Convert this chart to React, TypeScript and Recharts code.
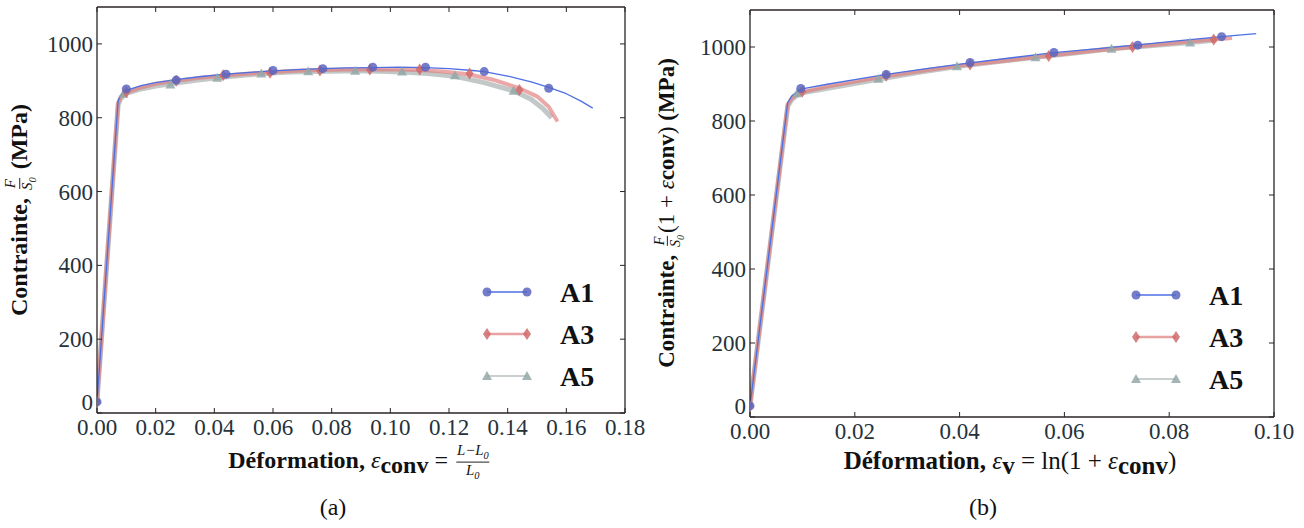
import React from "react";
import { ComposedChart, Line, Scatter, XAxis, YAxis } from "recharts";

type Pt = { x: number; y: number };
const pts = (rows: number[][]): Pt[] => rows.map(([x, y]) => ({ x, y }));

const seriesNames = ["A1", "A3", "A5"];

// (a) contrainte conventionnelle vs déformation conventionnelle
const convLineA1 = pts([
  [0, 30], [0.0072, 845], [0.008, 860], [0.009, 868], [0.01, 874], [0.015, 887], [0.02, 895],
  [0.027, 903], [0.035, 911], [0.044, 918], [0.052, 923], [0.06, 927], [0.07, 931], [0.077, 933],
  [0.085, 935], [0.094, 936], [0.103, 937], [0.112, 936], [0.12, 933], [0.128, 928], [0.132, 925],
  [0.14, 913], [0.148, 897], [0.154, 882], [0.16, 865], [0.165, 845], [0.169, 826],
]);
const convLineA3 = pts([
  [0, 30], [0.0072, 840], [0.008, 855], [0.009, 863], [0.01, 868], [0.015, 882], [0.02, 892],
  [0.027, 900], [0.035, 908], [0.043, 914], [0.051, 919], [0.059, 923], [0.068, 927], [0.076, 929],
  [0.085, 931], [0.093, 931], [0.102, 931], [0.11, 929], [0.118, 925], [0.127, 917], [0.135, 903],
  [0.144, 880], [0.15, 858], [0.154, 830], [0.157, 790],
]);
const convLineA5 = pts([
  [0, 30], [0.0072, 835], [0.008, 850], [0.009, 860], [0.01, 866], [0.015, 878], [0.02, 886],
  [0.025, 892], [0.033, 901], [0.041, 908], [0.048, 914], [0.056, 919], [0.064, 923], [0.072, 925],
  [0.08, 926], [0.088, 927], [0.096, 926], [0.104, 924], [0.113, 920], [0.122, 912], [0.132, 895],
  [0.142, 873], [0.148, 850], [0.152, 825], [0.155, 800],
]);
const convMarkA1 = pts([
  [0, 30], [0.01, 878], [0.027, 902], [0.044, 918], [0.06, 928], [0.077, 933], [0.094, 937],
  [0.112, 937], [0.132, 925], [0.154, 880],
]);
const convMarkA3 = pts([
  [0, 30], [0.01, 870], [0.027, 900], [0.043, 915], [0.059, 922], [0.076, 928], [0.093, 931],
  [0.11, 931], [0.127, 920], [0.144, 875],
]);
const convMarkA5 = pts([
  [0.009, 865], [0.025, 890], [0.041, 908], [0.056, 920], [0.072, 926], [0.088, 927], [0.104, 925],
  [0.122, 915], [0.142, 873],
]);

// (b) contrainte vraie vs déformation vraie
const trueLineA1 = pts([
  [0, 30], [0.0072, 850], [0.008, 868], [0.009, 880], [0.0097, 886], [0.015, 900], [0.02, 912],
  [0.026, 926], [0.034, 942], [0.042, 957], [0.05, 971], [0.058, 985], [0.066, 995], [0.074, 1006],
  [0.082, 1017], [0.09, 1028], [0.0966, 1036],
]);
const trueLineA3 = pts([
  [0, 30], [0.0072, 845], [0.008, 862], [0.009, 873], [0.01, 878], [0.015, 894], [0.02, 907],
  [0.026, 921], [0.034, 938], [0.042, 953], [0.05, 965], [0.057, 976], [0.065, 989], [0.073, 1000],
  [0.081, 1011], [0.0885, 1020], [0.092, 1024],
]);
const trueLineA5 = pts([
  [0, 30], [0.0072, 840], [0.008, 858], [0.009, 870], [0.01, 876], [0.0245, 913], [0.032, 931],
  [0.0395, 947], [0.047, 960], [0.0545, 972], [0.062, 984], [0.069, 995], [0.077, 1004],
  [0.084, 1012], [0.089, 1019],
]);
const trueMarkA1 = pts([
  [0, 30], [0.0097, 888], [0.026, 926], [0.042, 958], [0.058, 985], [0.074, 1005], [0.09, 1028],
]);
const trueMarkA3 = pts([
  [0, 30], [0.01, 880], [0.026, 922], [0.042, 953], [0.057, 976], [0.073, 1000], [0.0885, 1020],
]);
const trueMarkA5 = pts([
  [0.009, 875], [0.0245, 914], [0.0395, 948], [0.0545, 972], [0.069, 995], [0.084, 1012],
]);

const convTicks = [0, 0.02, 0.04, 0.06, 0.08, 0.1, 0.12, 0.14, 0.16, 0.18];
const trueTicks = [0, 0.02, 0.04, 0.06, 0.08, 0.1];
const stressTicks = [0, 200, 400, 600, 800, 1000];

const FONT = "'Liberation Serif', 'DejaVu Serif', serif";
const INK = "#25323b";
const FRAME = "#2b2424";

const lineStyles = [
  { stroke: "#4c6fe3", strokeWidth: 1.3, strokeOpacity: 1 },
  { stroke: "#e07a7a", strokeWidth: 4, strokeOpacity: 0.65 },
  { stroke: "#9aa4a4", strokeWidth: 5, strokeOpacity: 0.6 },
];

const Circle = (p: any) => <circle cx={p.cx} cy={p.cy} r={4.5} fill="#5a66c0" fillOpacity={0.85} />;
const Diamond = (p: any) => (
  <path d={`M${p.cx},${p.cy - 6}L${p.cx + 4},${p.cy}L${p.cx},${p.cy + 6}L${p.cx - 4},${p.cy}Z`} fill="#cf6a6a" fillOpacity={0.85} />
);
const Tri = (p: any) => (
  <path d={`M${p.cx},${p.cy - 5}L${p.cx + 5},${p.cy + 4}L${p.cx - 5},${p.cy + 4}Z`} fill="#93a8a8" fillOpacity={0.85} />
);
const shapes = [Circle, Diamond, Tri];

const BottomTick = (p: any) => (
  <g>
    <line x1={p.x} x2={p.x} y1={p.y} y2={p.y - 5} stroke={FRAME} />
    <text x={p.x} y={p.y + 22} textAnchor="middle" fontFamily={FONT} fontSize={23} fill={INK}>
      {Number(p.payload.value).toFixed(2)}
    </text>
  </g>
);
const TopTick = (p: any) => <line x1={p.x} x2={p.x} y1={p.y} y2={p.y + 5} stroke={FRAME} />;
const LeftTick = (p: any) => (
  <g>
    <line x1={p.x} x2={p.x + 5} y1={p.y} y2={p.y} stroke={FRAME} />
    <text x={p.x - 4} y={p.payload.value === 0 ? p.y - 3 : p.y + 8} textAnchor="end" fontFamily={FONT} fontSize={23} fill={INK}>
      {p.payload.value}
    </text>
  </g>
);
const RightTick = (p: any) => <line x1={p.x} x2={p.x - 5} y1={p.y} y2={p.y} stroke={FRAME} />;

const axisLine = { stroke: FRAME, strokeWidth: 1.3 };
const AX = 2; // thin axis band so that every axis is laid out and drawn

interface PanelProps {
  left: number;
  width: number;
  plot: { top: number; right: number; bottom: number; left: number };
  xMax: number;
  xTicks: number[];
  lines: Pt[][];
  marks: Pt[][];
}

function Panel({ left, width, plot, xMax, xTicks, lines, marks }: PanelProps) {
  const margin = { top: plot.top - AX, right: plot.right - AX, bottom: plot.bottom - AX, left: plot.left - AX };
  return (
    <div style={{ position: "absolute", left, top: 0 }}>
      <ComposedChart width={width} height={528} margin={margin}>
        <XAxis xAxisId="b" type="number" dataKey="x" domain={[0, xMax]} ticks={xTicks} interval={0}
          height={AX} tickSize={0} tickMargin={0} tick={<BottomTick />} axisLine={axisLine} allowDataOverflow />
        <XAxis xAxisId="t" orientation="top" type="number" dataKey="x" domain={[0, xMax]} ticks={xTicks} interval={0}
          height={AX} tickSize={0} tickMargin={0} tick={<TopTick />} axisLine={axisLine} allowDataOverflow />
        <YAxis yAxisId="l" type="number" dataKey="y" domain={[0, 1100]} ticks={stressTicks} interval={0}
          width={AX} tickSize={0} tickMargin={0} tick={<LeftTick />} axisLine={axisLine} allowDataOverflow />
        <YAxis yAxisId="r" orientation="right" type="number" dataKey="y" domain={[0, 1100]} ticks={stressTicks} interval={0}
          width={AX} tickSize={0} tickMargin={0} tick={<RightTick />} axisLine={axisLine} allowDataOverflow />
        {[2, 1, 0].map((i) => (
          <Line key={`l${i}`} xAxisId="b" yAxisId="l" data={lines[i]} dataKey="y" type="linear" dot={false}
            activeDot={false} isAnimationActive={false} strokeLinejoin="round" {...lineStyles[i]} />
        ))}
        {[2, 1, 0].map((i) => (
          <Scatter key={`m${i}`} xAxisId="b" yAxisId="l" data={marks[i]} dataKey="y" shape={shapes[i]}
            isAnimationActive={false} />
        ))}
      </ComposedChart>
    </div>
  );
}

function Legend({ x, y }: { x: number; y: number }) {
  return (
    <svg style={{ position: "absolute", left: x - 10, top: y - 20, overflow: "visible" }} width={130} height={120}>
      {seriesNames.map((name, i) => {
        const cy = 20 + i * 42;
        const S = shapes[i];
        return (
          <g key={name}>
            <line x1={10} x2={50} y1={cy} y2={cy} stroke={lineStyles[i].stroke}
              strokeOpacity={i === 0 ? 1 : 0.7} strokeWidth={i === 1 ? 2.5 : 1.3} />
            <S cx={10} cy={cy} />
            <S cx={50} cy={cy} />
            <text x={83} y={cy + 10} fontFamily={FONT} fontWeight="bold" fontSize={28} fill="#111">{name}</text>
          </g>
        );
      })}
    </svg>
  );
}

const Frac = ({ num, den }: { num: React.ReactNode; den: React.ReactNode }) => (
  <span style={{ display: "inline-flex", flexDirection: "column", alignItems: "center", verticalAlign: "middle",
    fontSize: "0.62em", fontStyle: "italic", fontWeight: "normal", lineHeight: 1.05, margin: "0 2px" }}>
    <span style={{ borderBottom: "1px solid #222", padding: "0 1px" }}>{num}</span>
    <span>{den}</span>
  </span>
);

const labelBase: React.CSSProperties = {
  position: "absolute", whiteSpace: "nowrap", fontFamily: FONT, fontSize: 24, fontWeight: "bold",
  color: "#111", lineHeight: 1,
};
const eps: React.CSSProperties = { fontStyle: "italic", fontWeight: "normal" };
const subBold: React.CSSProperties = { fontWeight: "bold", position: "relative", top: "0.2em" };
const S0 = <>S<sub style={{ fontSize: "0.7em" }}>0</sub></>;

export default function App() {
  return (
    <div style={{ position: "absolute", left: 0, top: 0, width: 1304, height: 528, background: "#fff", overflow: "hidden" }}>
      <Panel left={0} width={650} plot={{ top: 7, right: 25, bottom: 115, left: 97 }} xMax={0.18} xTicks={convTicks}
        lines={[convLineA1, convLineA3, convLineA5]} marks={[convMarkA1, convMarkA3, convMarkA5]} />
      <Panel left={650} width={654} plot={{ top: 10, right: 30, bottom: 111, left: 100 }} xMax={0.1} xTicks={trueTicks}
        lines={[trueLineA1, trueLineA3, trueLineA5]} marks={[trueMarkA1, trueMarkA3, trueMarkA5]} />

      <Legend x={487} y={292} />
      <Legend x={1136} y={295} />

      <div style={{ ...labelBase, left: 21, top: 210, transform: "translate(-50%, -50%) rotate(-90deg)" }}>
        Contrainte, <Frac num="F" den={S0} /> (MPa)
      </div>
      <div style={{ ...labelBase, fontSize: 23, left: 669, top: 213, transform: "translate(-50%, -50%) rotate(-90deg)" }}>
        Contrainte, <Frac num="F" den={S0} /><span style={{ fontWeight: "normal" }}>(1 + <span style={eps}>ε</span></span>conv<span style={{ fontWeight: "normal" }}>)</span> (MPa)
      </div>

      <div style={{ ...labelBase, left: 360, top: 462, transform: "translate(-50%, -50%)" }}>
        Déformation, <span style={eps}>ε</span><span style={subBold}>conv</span>
        <span style={{ fontWeight: "normal" }}> = </span>
        <Frac num={<>L−L<sub style={{ fontSize: "0.7em" }}>0</sub></>} den={<>L<sub style={{ fontSize: "0.7em" }}>0</sub></>} />
      </div>
      <div style={{ ...labelBase, fontSize: 25, left: 1010, top: 460, transform: "translate(-50%, -50%)" }}>
        Déformation, <span style={eps}>ε</span><span style={subBold}>v</span>
        <span style={{ fontWeight: "normal" }}> = ln(1 + <span style={eps}>ε</span></span><span style={subBold}>conv</span>
        <span style={{ fontWeight: "normal" }}>)</span>
      </div>

      <div style={{ ...labelBase, fontWeight: "normal", fontSize: 24, left: 333, top: 507, transform: "translate(-50%, -50%)" }}>(a)</div>
      <div style={{ ...labelBase, fontWeight: "normal", fontSize: 24, left: 983, top: 507, transform: "translate(-50%, -50%)" }}>(b)</div>
    </div>
  );
}
